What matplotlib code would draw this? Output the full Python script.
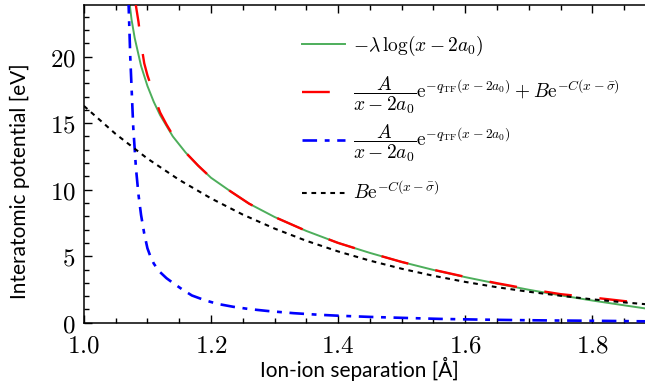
import matplotlib
matplotlib.use("Agg")
import matplotlib.pyplot as plt
from matplotlib.ticker import MultipleLocator, FuncFormatter

plt.rcParams['mathtext.fontset'] = 'cm'
plt.rcParams['lines.scale_dashes'] = False

# ---- data ----
green_x = [1.070, 1.075, 1.080, 1.090, 1.100, 1.110, 1.120, 1.140, 1.160, 1.180,
           1.200, 1.230, 1.260, 1.300, 1.350, 1.400, 1.450, 1.500, 1.550, 1.600,
           1.650, 1.700, 1.750, 1.800, 1.850, 1.900]
green_y = [24.8, 22.8, 21.4, 19.3, 17.8, 16.6, 15.6, 14.0, 12.8, 11.8,
           10.9, 9.9, 8.95, 7.95, 6.9, 6.0, 5.25, 4.57, 3.97, 3.43,
           2.94, 2.48, 2.06, 1.67, 1.31, 0.96]

red_x = [1.078, 1.082, 1.086, 1.090, 1.095, 1.100, 1.105, 1.110, 1.120, 1.130,
         1.140, 1.160, 1.180, 1.200, 1.230, 1.260, 1.300, 1.350, 1.400, 1.450,
         1.500, 1.550, 1.600, 1.650, 1.700, 1.750, 1.800, 1.850, 1.900]
red_y = [25.5, 23.8, 22.6, 21.0, 19.5, 18.6, 17.9, 17.1, 15.8, 14.9,
         14.1, 12.8, 11.8, 10.9, 9.9, 8.95, 7.95, 6.9, 6.0, 5.25,
         4.57, 3.98, 3.45, 2.97, 2.53, 2.15, 1.90, 1.63, 1.40]

blue_x = [1.070, 1.073, 1.0777, 1.082, 1.086, 1.090, 1.095, 1.100, 1.105, 1.110,
          1.115, 1.120, 1.130, 1.140, 1.155, 1.170, 1.190, 1.210, 1.235, 1.260,
          1.290, 1.330, 1.370, 1.400, 1.450, 1.500, 1.560, 1.620, 1.680, 1.740,
          1.800, 1.860, 1.900]
blue_y = [24.5, 20.0, 14.7, 11.6, 9.6, 8.1, 6.7, 5.6, 4.95, 4.45,
          4.1, 3.8, 3.35, 3.0, 2.5, 2.05, 1.7, 1.42, 1.2, 1.03,
          0.88, 0.72, 0.6, 0.53, 0.44, 0.37, 0.29, 0.24, 0.20, 0.17,
          0.15, 0.12, 0.10]

black_x = [1.00, 1.05, 1.10, 1.15, 1.20, 1.25, 1.30, 1.35, 1.40, 1.45,
           1.50, 1.55, 1.60, 1.65, 1.70, 1.75, 1.80, 1.85, 1.90]
black_y = [16.3, 14.19, 12.34, 10.74, 9.35, 8.13, 7.08, 6.16, 5.36, 4.67,
           4.06, 3.53, 3.07, 2.67, 2.33, 2.03, 1.76, 1.53, 1.33]

labels = [r'$-\lambda\,\log(x-2a_0)$',
          r'$\dfrac{A}{x-2a_0}\mathrm{e}^{-q_{\mathrm{TF}}(x-2a_0)}+B\mathrm{e}^{-C(x-\bar{\sigma})}$',
          r'$\dfrac{A}{x-2a_0}\mathrm{e}^{-q_{\mathrm{TF}}(x-2a_0)}$',
          r'$B\mathrm{e}^{-C(x-\bar{\sigma})}$']
x_ticks = [1.0, 1.2, 1.4, 1.6, 1.8]
y_ticks = [0, 5, 10, 15, 20]

fig = plt.figure(figsize=(6.45, 3.87), dpi=100)
ax = fig.add_axes([0.130, 0.166, 0.887, 0.8217])

lines = []
lines += ax.plot(green_x, green_y, color='#4DAE5B', lw=1.4, zorder=2)
lines += ax.plot(red_x, red_y, color='#FF0000', lw=1.7, dashes=(20, 20), zorder=3)
lines += ax.plot(blue_x, blue_y, color='#0000FF', lw=1.9, dashes=(10.5, 5.5, 3.5, 5.5), zorder=3)
lines += ax.plot(black_x, black_y, color='black', lw=1.5, dashes=(3.4, 3.4), zorder=4)

ax.set_xlim(1.0, 1.9)
ax.set_ylim(0, 23.9)
ax.set_xticks(x_ticks)
ax.set_yticks(y_ticks)
ax.xaxis.set_minor_locator(MultipleLocator(0.05))
ax.yaxis.set_minor_locator(MultipleLocator(1))
ax.xaxis.set_major_formatter(FuncFormatter(lambda v, p: r'$%.1f$' % v))
ax.yaxis.set_major_formatter(FuncFormatter(lambda v, p: r'$%d$' % round(v)))
ax.tick_params(which='both', direction='in', top=True, right=True, labelsize=18, width=1.0)
ax.tick_params(which='major', length=6)
ax.tick_params(which='minor', length=3.5)
ax.tick_params(axis='x', pad=8)
ax.tick_params(axis='y', pad=6)
for s in ax.spines.values():
    s.set_linewidth(1.1)

ax.set_xlabel('Ion-ion separation [Å]', fontsize=15, family=['Lato', 'DejaVu Sans'])
ax.set_ylabel('Interatomic potential [eV]', fontsize=15, family=['Lato', 'DejaVu Sans'])
ax.xaxis.set_label_coords(0.481, -0.108)
ax.yaxis.set_label_coords(-0.094, 0.446)

# one legend per entry so rows sit evenly spaced as in the reference
row_y = [0.870, 0.716, 0.565, 0.411]
for i, (ln, lab) in enumerate(zip(lines, labels)):
    lg = ax.legend([ln], [lab], loc='center left', bbox_to_anchor=(0.381, row_y[i]),
                   frameon=False, fontsize=14, handlelength=2.2, handletextpad=0.42,
                   borderpad=0, borderaxespad=0)
    if i < len(lines) - 1:
        ax.add_artist(lg)

fig.savefig('out.png', dpi=100)
